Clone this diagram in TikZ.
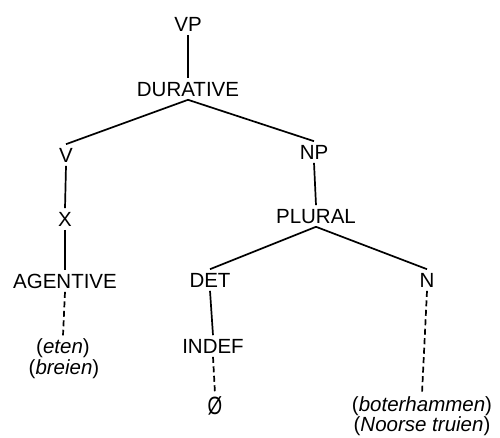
\documentclass[tikz,border=0pt]{standalone}
\usepackage{fontspec}
\setmainfont{Liberation Sans}
\begin{document}
\begin{tikzpicture}[x=1pt,y=-1pt,
  lab/.style={font=\fontsize{20.5}{22}\selectfont, inner sep=0pt, outer sep=3.5pt, text height=14.6pt, text depth=0pt},
  word/.style={font=\fontsize{20.5}{22}\selectfont, inner sep=0pt, outer sep=3pt},
  edge/.style={line width=1.7pt},
  dedge/.style={line width=1.7pt, dash pattern=on 6pt off 3.5pt}]
\useasboundingbox (0,0) rectangle (500,438);
\node[lab] (vp) at (188,24) {VP};
\node[lab] (dur) at (188,89) {DURATIVE};
\node[lab] (v) at (66,155) {V};
\node[lab] (x) at (65,219) {X};
\node[lab] (ag) at (65,281) {AGENTIVE};
\node[word] (eten) at (63,348) {(\textit{eten})};
\node[word] (breien) at (64,369) {(\textit{breien})};
\node[lab] (np) at (314,152) {NP};
\node[lab] (pl) at (316,216) {PLURAL};
\node[lab] (det) at (210,280) {DET};
\node[lab] (n) at (427,280) {N};
\node[lab] (indef) at (213,346) {INDEF};
\node[word, font=\fontsize{25}{26}\selectfont] (empty) at (215,406) {\scalebox{0.75}[1]{Ø}};
\node[word] (bot) at (422,406) {(\textit{boterhammen})};
\node[word] (noo) at (422,426) {(\textit{Noorse truien})};
\draw[edge] (vp.south) -- (dur.north);
\draw[edge] (dur.south) -- (v.north);
\draw[edge] (dur.south) -- (np.north);
\draw[edge] (v.south) -- (x.north);
\draw[edge] (x.south) -- (ag.north);
\draw[dedge] (ag.south) -- (eten.north);
\draw[edge] (np.south) -- (pl.north);
\draw[edge] (pl.south) -- (det.north);
\draw[edge] (pl.south) -- (n.north);
\draw[edge] (det.south) -- (indef.north);
\draw[dedge] (indef.south) -- (empty.north);
\draw[dedge] (n.south) -- (bot.north);
\end{tikzpicture}
\end{document}
